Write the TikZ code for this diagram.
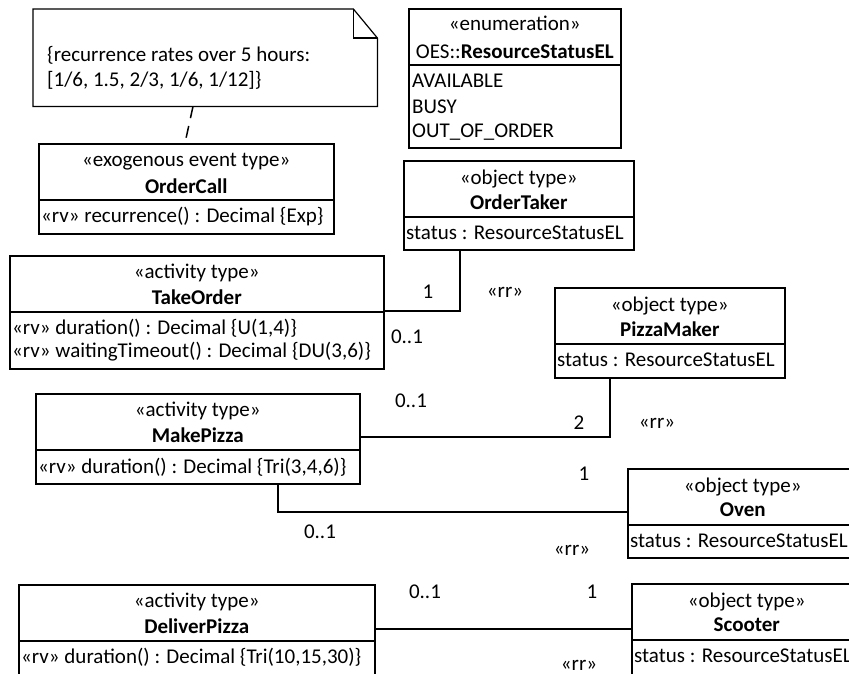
\documentclass[tikz,border=0pt]{standalone}
\usepackage{fontspec}
\setmainfont{Carlito}
\usetikzlibrary{positioning,calc}
\tikzset{
  classbox/.style={draw,line width=1.6pt,anchor=north west,inner sep=0},
  divider/.style={line width=1.6pt},
  stereo/.style={inner sep=0},
  cname/.style={inner sep=0,font=\fontsize{21}{25}\selectfont\bfseries},
  attr/.style={anchor=west,inner sep=0},
  assoc/.style={line width=1.2pt},
  mult/.style={inner sep=0},
  notebox/.style={anchor=north west,inner sep=0,minimum width=344,minimum height=97},
  notelink/.style={line width=1.5pt,dash pattern=on 12pt off 8pt},
}

\begin{document}
\begin{tikzpicture}[x=1pt,y=-1pt,font=\fontsize{21}{25}\selectfont]
  \useasboundingbox (0,0) rectangle (849,673);
  % the note with its folded corner
  \node[notebox] (note) at (33,9) {};
  \draw[line width=1.2pt] (note.north west) -- ($(note.north east)+(-24,0)$) -- ($(note.north east)+(0,29)$)
    -- (note.south east) -- (note.south west) -- cycle;
  \draw[line width=1.2pt] ($(note.north east)+(-24,0)$) |- ($(note.north east)+(0,29)$);
  \node[attr] (note-l1) at (47,55) {\{recurrence rates over 5 hours:};
  \node[attr] (note-l2) at (47,80) {[1/6, 1.5, 2/3, 1/6, 1/12]\}};
  % the event type
  \node[classbox,minimum width=295,minimum height=90] (ordercall) at (38,143) {};
  \draw[divider] ($(ordercall.north west)+(0,57)$) -- ($(ordercall.north east)+(0,57)$);
  \node[stereo] (ordercall-st) at ($(ordercall.north)+(0,19)$) {«exogenous event type»};
  \node[cname] (ordercall-nm) at ($(ordercall.north)+(0,43)$) {OrderCall};
  \node[attr] (ordercall-a1) at ($(ordercall.north west)+(3,74)$) {«rv» recurrence() : Decimal \{Exp\}};
  \draw[notelink] (note.south -| 193,0) -- (ordercall.north -| 185,0);
  % the enumeration
  \node[classbox,minimum width=212,minimum height=139] (enum) at (408,8) {};
  \draw[divider] ($(enum.north west)+(0,57)$) -- ($(enum.north east)+(0,57)$);
  \node[stereo] (enum-st) at ($(enum.north)+(0,15)$) {«enumeration»};
  \node[stereo] (enum-nm) at ($(enum.north)+(0,44)$) {OES::\textbf{ResourceStatusEL}};
  \node[attr] (enum-a1) at ($(enum.north west)+(4,73)$) {AVAILABLE};
  \node[attr] (enum-a2) at ($(enum.north west)+(4,99)$) {BUSY};
  \node[attr] (enum-a3) at ($(enum.north west)+(4,124)$) {OUT\_OF\_ORDER};
  % the object types
  \foreach \nm/\txt/\x/\y/\h in {ordertaker/OrderTaker/403/160/89, pizzamaker/PizzaMaker/554/287/90,
                               oven/Oven/627/468/89, scooter/Scooter/631/583/100} {
    \node[classbox,minimum width=230,minimum height=\h] (\nm) at (\x,\y) {};
    \draw[divider] ($(\nm.north west)+(0,57)$) -- ($(\nm.north east)+(0,57)$);
    \node[stereo] (\nm-st) at ($(\nm.north)+(0,19)$) {«object type»};
    \node[cname] (\nm-nm) at ($(\nm.north)+(0,42)$) {\txt};
    \node[attr] (\nm-a1) at ($(\nm.north west)+(3,73)$) {status : ResourceStatusEL};
  }
  % the activity types
  \foreach \nm/\txt/\x/\y/\w/\h in {takeorder/TakeOrder/9/255/374/113, makepizza/MakePizza/35/393/324/90,
                                  deliverpizza/DeliverPizza/18/584/356/100} {
    \node[classbox,minimum width=\w,minimum height=\h] (\nm) at (\x,\y) {};
    \draw[divider] ($(\nm.north west)+(0,57)$) -- ($(\nm.north east)+(0,57)$);
    \node[stereo] (\nm-st) at ($(\nm.north)+(0,18)$) {«activity type»};
    \node[cname] (\nm-nm) at ($(\nm.north)+(0,42)$) {\txt};
  }
  \node[attr] (takeorder-a1) at ($(takeorder.north west)+(3,73)$) {«rv» duration() : Decimal \{U(1,4)\}};
  \node[attr] (takeorder-a2) at ($(takeorder.north west)+(3,97)$) {«rv» waitingTimeout() : Decimal \{DU(3,6)\}};
  \node[attr] (makepizza-a1) at ($(makepizza.north west)+(3,74)$) {«rv» duration() : Decimal \{Tri(3,4,6)\}};
  \node[attr] (deliverpizza-a1) at ($(deliverpizza.north west)+(3,73)$) {«rv» duration() : Decimal \{Tri(10,15,30)\}};
  % resource role associations
  \coordinate (tobend) at (460,311);
  \draw[assoc] (ordertaker.south -| tobend) -- (tobend) -- (takeorder.east |- tobend);
  \coordinate (mpbend) at (610,437);
  \draw[assoc] (pizzamaker.south -| mpbend) -- (mpbend) -- (makepizza.east |- mpbend);
  \coordinate (ovbend) at (278,512);
  \draw[assoc] (makepizza.south -| ovbend) -- (ovbend) -- (oven.west |- ovbend);
  \coordinate (dplevel) at (0,629);
  \draw[assoc] (deliverpizza.east |- dplevel) -- (scooter.west |- dplevel);
  \node[mult] (to-m1) at (428,292) {1};
  \node[mult] (to-rr) at (505,292) {«rr»};
  \node[mult] (to-m2) at (407,337) {0..1};
  \node[mult] (mp-m1) at (411,401) {0..1};
  \node[mult] (mp-m2) at (579,423) {2};
  \node[mult] (mp-rr) at (657,423) {«rr»};
  \node[mult] (ov-m1) at (584,474) {1};
  \node[mult] (ov-m2) at (320,532) {0..1};
  \node[mult] (ov-rr) at (572,550) {«rr»};
  \node[mult] (sc-m1) at (425,592) {0..1};
  \node[mult] (sc-m2) at (592,592) {1};
  \node[mult] (sc-rr) at (579,665) {«rr»};
\end{tikzpicture}
\end{document}
